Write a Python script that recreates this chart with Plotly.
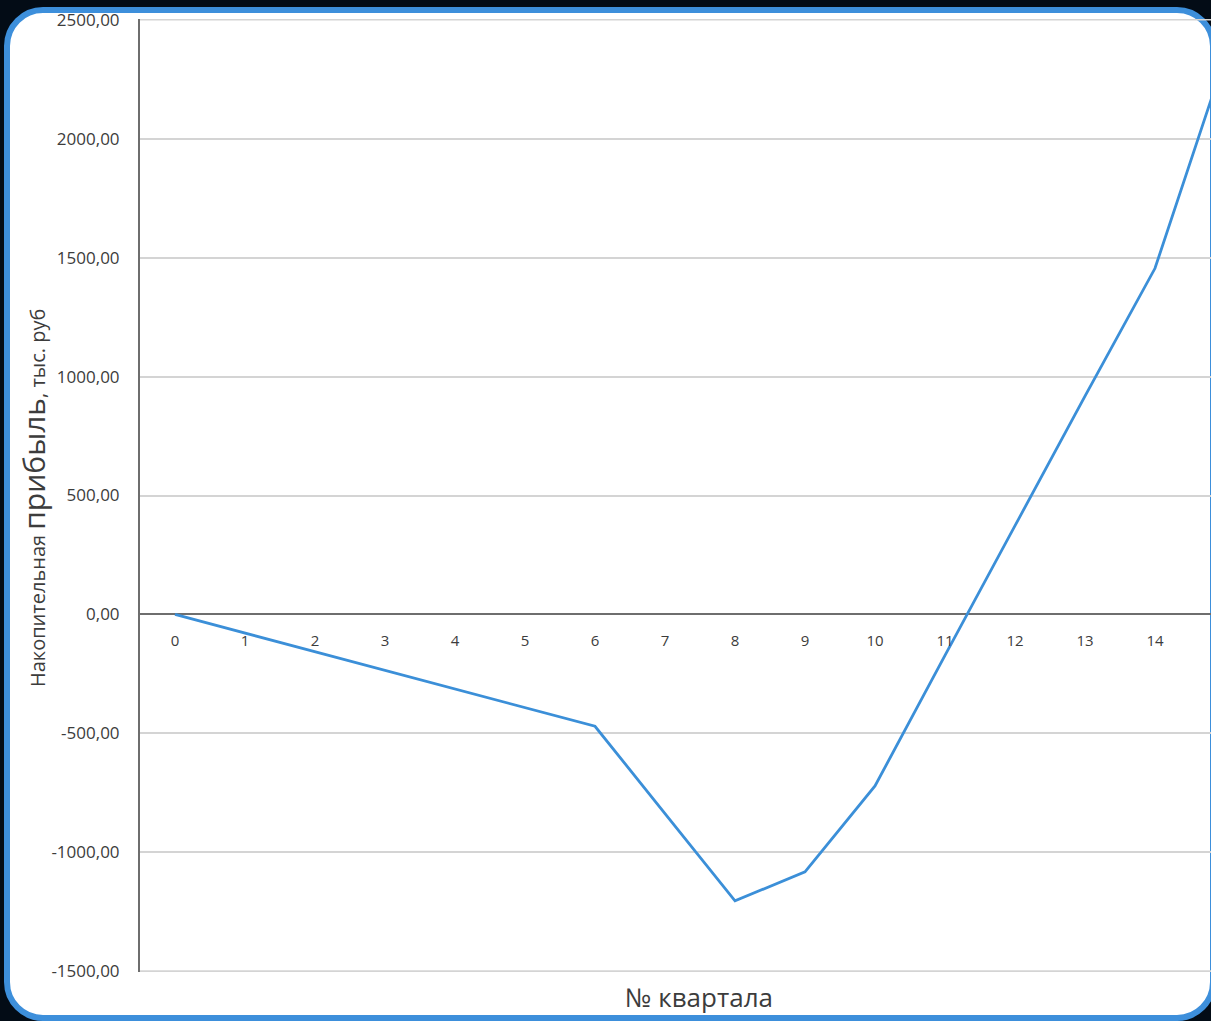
import plotly.graph_objects as go

# Quarter numbers and cumulative profit, thousand rubles
quarters = list(range(16))
profit = [0, -78, -157, -235, -313, -392, -470, -837, -1204, -1082, -721, -172, 373, 918, 1455, 2340]

# Axis ticks
x_ticks = list(range(15))
x_tick_labels = [str(q) for q in x_ticks]
y_ticks = [-1500, -1000, -500, 0, 500, 1000, 1500, 2000, 2500]
y_tick_labels = ["-1500,00", "-1000,00", "-500,00", "0,00", "500,00",
                 "1000,00", "1500,00", "2000,00", "2500,00"]

W, H = 1211, 1021
ML, MR, MT, MB = 140, 0, 19, 49
PW, PH = W - ML - MR, H - MT - MB
GRID = "#d4d4d4"


def px(x):
    return (x - ML) / PW


def py(y):
    return (H - MB - y) / PH


def rounded_rect(x0, y0, x1, y1, r):
    k = 0.5523 * r
    pts = [
        ("M", [(x0 + r, y0)]),
        ("L", [(x1 - r, y0)]),
        ("C", [(x1 - r + k, y0), (x1, y0 + r - k), (x1, y0 + r)]),
        ("L", [(x1, y1 - r)]),
        ("C", [(x1, y1 - r + k), (x1 - r + k, y1), (x1 - r, y1)]),
        ("L", [(x0 + r, y1)]),
        ("C", [(x0 + r - k, y1), (x0, y1 - r + k), (x0, y1 - r)]),
        ("L", [(x0, y0 + r)]),
        ("C", [(x0, y0 + r - k), (x0 + r - k, y0), (x0 + r, y0)]),
    ]
    out = []
    for cmd, coords in pts:
        out.append(cmd + " " + " ".join(f"{px(a):.5f},{py(b):.5f}" for a, b in coords))
    return " ".join(out) + " Z"


FONT = "Open Sans, DejaVu Sans, sans-serif"
TEXT = "#3c3c3c"

fig = go.Figure()
fig.add_trace(go.Scatter(
    x=quarters, y=profit, mode="lines",
    line=dict(color="#3b8fd8", width=2.8),
    showlegend=False, hoverinfo="x+y",
))

# white card with a blue rounded border
fig.add_shape(
    type="path", xref="paper", yref="paper", layer="below",
    path=rounded_rect(7, 10, 1213, 1018, 36),
    line=dict(color="#3d8fdb", width=6), fillcolor="white",
)

# gridlines at the two ends of the value range
for v in (y_ticks[0], y_ticks[-1]):
    fig.add_shape(
        type="line", xref="paper", yref="y", layer="below",
        x0=0, x1=1, y0=v, y1=v,
        line=dict(color=GRID, width=1.5 if v > 0 else 2),
    )

fig.update_layout(
    width=W, height=H,
    margin=dict(l=ML, r=MR, t=MT, b=MB, pad=0),
    paper_bgcolor="#030c16",
    plot_bgcolor="rgba(0,0,0,0)",
    xaxis=dict(
        range=[-0.5, -0.5 + PW / 70],
        tickmode="array", tickvals=x_ticks, ticktext=x_tick_labels,
        showgrid=False, zeroline=False, showline=False, ticks="",
        anchor="free", position=0.375,
        tickfont=dict(family=FONT, size=15, color=TEXT), ticklabelstandoff=15,
    ),
    yaxis=dict(
        range=[-1503, 2503],
        tickmode="array", tickvals=y_ticks, ticktext=y_tick_labels,
        showgrid=True, gridcolor=GRID, gridwidth=1.5,
        zeroline=True, zerolinecolor="#6e6e6e", zerolinewidth=2,
        showline=True, linecolor="#6e6e6e", linewidth=2,
        ticks="", tickfont=dict(family=FONT, size=17, color=TEXT), ticklabelstandoff=15,
    ),
    annotations=[
        dict(
            text="№ квартала", xref="paper", yref="paper",
            x=px(699), y=py(997), xanchor="center", yanchor="middle",
            showarrow=False,
            font=dict(family=FONT, size=26, color=TEXT),
        ),
        dict(
            text=("Накопительная <span style='font-size:30px'>прибыль</span>, тыс. руб"),
            xref="paper", yref="paper", x=px(34), y=py(498),
            xanchor="center", yanchor="middle", textangle=-90, showarrow=False,
            font=dict(family=FONT, size=20, color=TEXT),
        ),
    ],
)

fig.write_html("out.html")
